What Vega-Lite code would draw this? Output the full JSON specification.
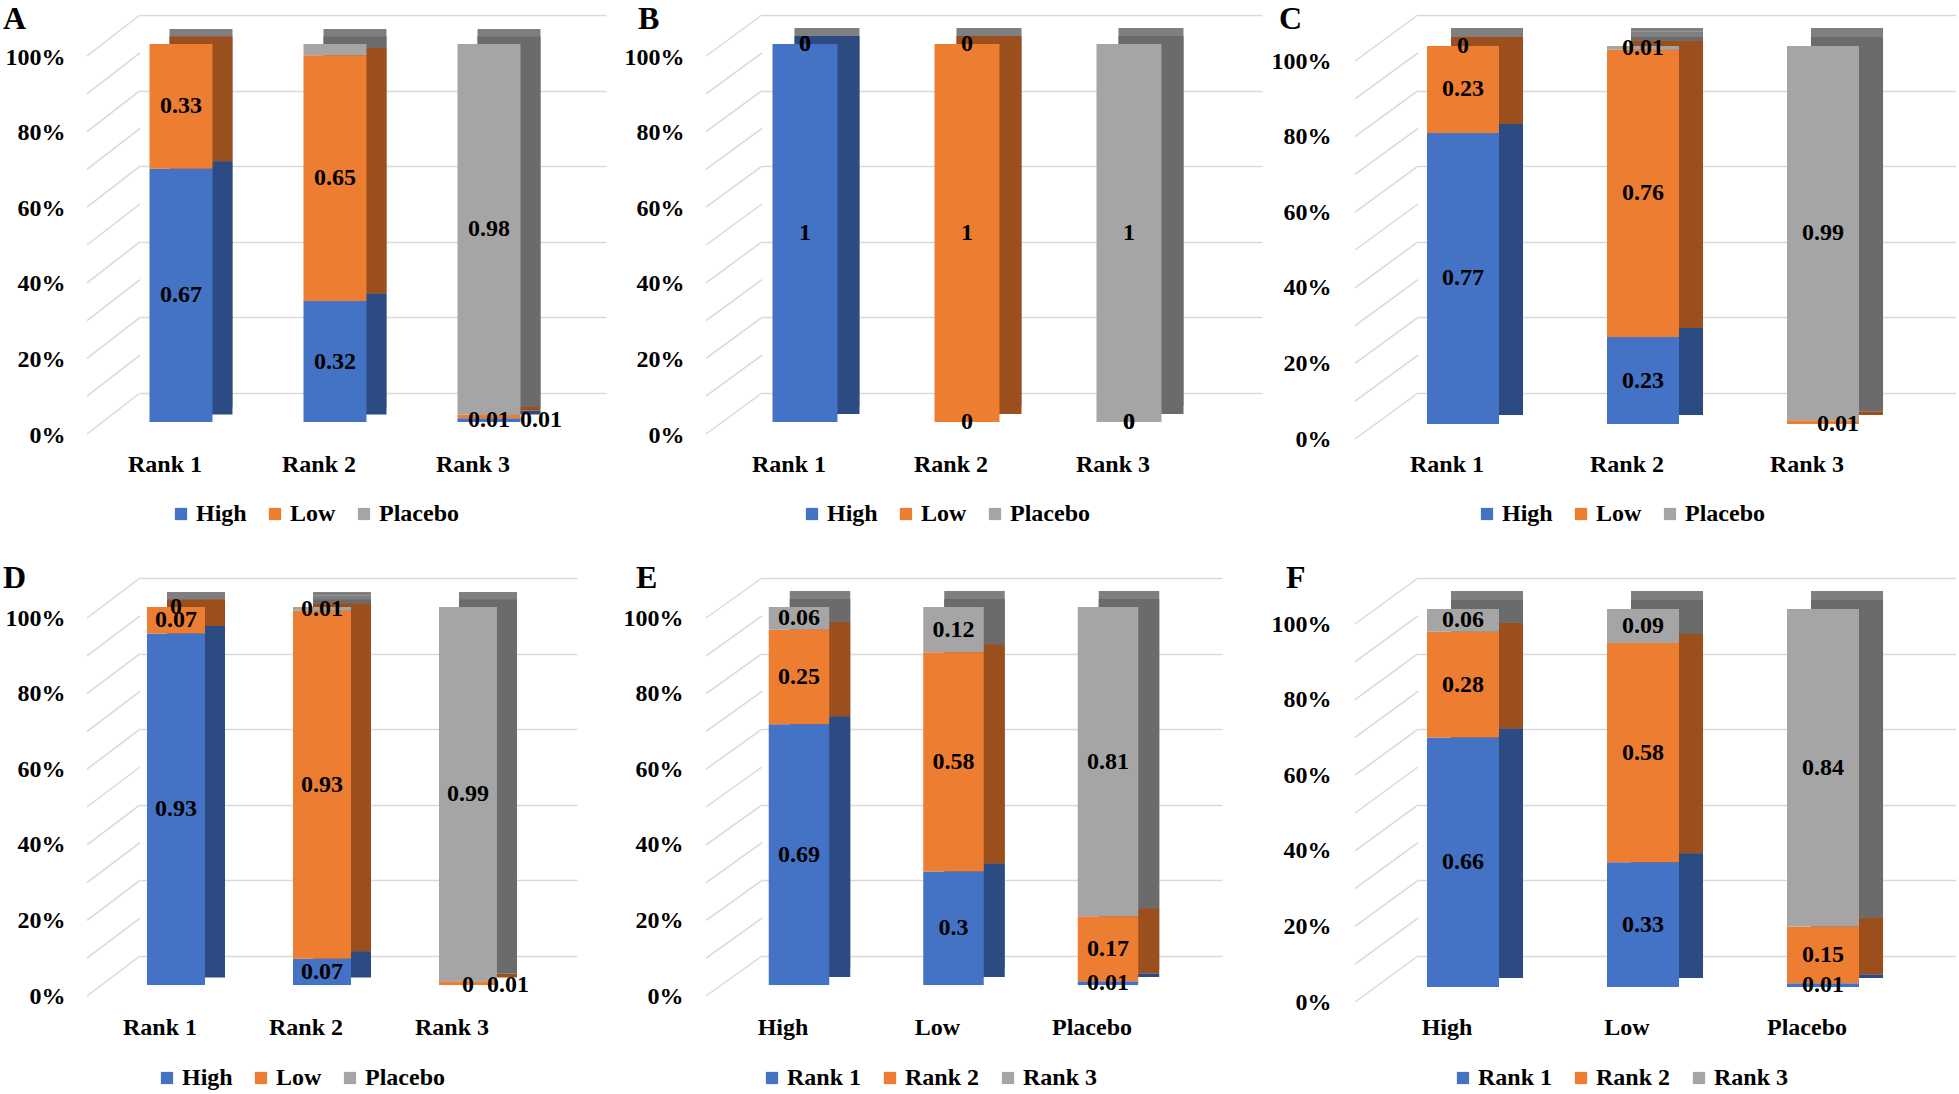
{
  "$schema": "https://vega.github.io/schema/vega-lite/v6.json",
  "autosize": {"type": "pad"},
  "padding": {"left": 3, "top": 3, "right": 0, "bottom": 0},
  "background": "white",
  "config": {"view": {"stroke": null}, "font": "Liberation Serif"},
  "datasets": {
    "grid": [{"t": 0}, {"t": 0.1}, {"t": 0.2}, {"t": 0.3}, {"t": 0.4}, {"t": 0.5}, {"t": 0.6}, {"t": 0.7}, {"t": 0.8}, {"t": 0.9}, {"t": 1}],
    "A": [
      {"x": "Rank 1", "s": "High", "o": 0, "v": 0.67, "lab": "0.67", "labR": ""},
      {"x": "Rank 1", "s": "Low", "o": 1, "v": 0.33, "lab": "0.33", "labR": ""},
      {"x": "Rank 1", "s": "Placebo", "o": 2, "v": 0, "lab": "", "labR": ""},
      {"x": "Rank 2", "s": "High", "o": 0, "v": 0.32, "lab": "0.32", "labR": ""},
      {"x": "Rank 2", "s": "Low", "o": 1, "v": 0.65, "lab": "0.65", "labR": ""},
      {"x": "Rank 2", "s": "Placebo", "o": 2, "v": 0.03, "lab": "", "labR": ""},
      {"x": "Rank 3", "s": "High", "o": 0, "v": 0.01, "lab": "0.01", "labR": ""},
      {"x": "Rank 3", "s": "Low", "o": 1, "v": 0.01, "lab": "", "labR": "0.01"},
      {"x": "Rank 3", "s": "Placebo", "o": 2, "v": 0.98, "lab": "0.98", "labR": ""}
    ],
    "B": [
      {"x": "Rank 1", "s": "High", "o": 0, "v": 1, "lab": "1", "labR": ""},
      {"x": "Rank 1", "s": "Low", "o": 1, "v": 0, "lab": "0", "labR": ""},
      {"x": "Rank 1", "s": "Placebo", "o": 2, "v": 0, "lab": "0", "labR": ""},
      {"x": "Rank 2", "s": "High", "o": 0, "v": 0, "lab": "0", "labR": ""},
      {"x": "Rank 2", "s": "Low", "o": 1, "v": 1, "lab": "1", "labR": ""},
      {"x": "Rank 2", "s": "Placebo", "o": 2, "v": 0, "lab": "0", "labR": ""},
      {"x": "Rank 3", "s": "High", "o": 0, "v": 0, "lab": "0", "labR": ""},
      {"x": "Rank 3", "s": "Low", "o": 1, "v": 0, "lab": "0", "labR": ""},
      {"x": "Rank 3", "s": "Placebo", "o": 2, "v": 1, "lab": "1", "labR": ""}
    ],
    "C": [
      {"x": "Rank 1", "s": "High", "o": 0, "v": 0.77, "lab": "0.77", "labR": ""},
      {"x": "Rank 1", "s": "Low", "o": 1, "v": 0.23, "lab": "0.23", "labR": ""},
      {"x": "Rank 1", "s": "Placebo", "o": 2, "v": 0, "lab": "0", "labR": ""},
      {"x": "Rank 2", "s": "High", "o": 0, "v": 0.23, "lab": "0.23", "labR": ""},
      {"x": "Rank 2", "s": "Low", "o": 1, "v": 0.76, "lab": "0.76", "labR": ""},
      {"x": "Rank 2", "s": "Placebo", "o": 2, "v": 0.01, "lab": "0.01", "labR": ""},
      {"x": "Rank 3", "s": "High", "o": 0, "v": 0, "lab": "", "labR": ""},
      {"x": "Rank 3", "s": "Low", "o": 1, "v": 0.01, "lab": "", "labR": "0.01"},
      {"x": "Rank 3", "s": "Placebo", "o": 2, "v": 0.99, "lab": "0.99", "labR": ""}
    ],
    "D": [
      {"x": "Rank 1", "s": "High", "o": 0, "v": 0.93, "lab": "0.93", "labR": ""},
      {"x": "Rank 1", "s": "Low", "o": 1, "v": 0.07, "lab": "0.07", "labR": ""},
      {"x": "Rank 1", "s": "Placebo", "o": 2, "v": 0, "lab": "0", "labR": ""},
      {"x": "Rank 2", "s": "High", "o": 0, "v": 0.07, "lab": "0.07", "labR": ""},
      {"x": "Rank 2", "s": "Low", "o": 1, "v": 0.93, "lab": "0.93", "labR": ""},
      {"x": "Rank 2", "s": "Placebo", "o": 2, "v": 0.01, "lab": "0.01", "labR": ""},
      {"x": "Rank 3", "s": "High", "o": 0, "v": 0, "lab": "0", "labR": ""},
      {"x": "Rank 3", "s": "Low", "o": 1, "v": 0.01, "lab": "", "labR": "0.01"},
      {"x": "Rank 3", "s": "Placebo", "o": 2, "v": 0.99, "lab": "0.99", "labR": ""}
    ],
    "E": [
      {"x": "High", "s": "Rank 1", "o": 0, "v": 0.69, "lab": "0.69", "labR": ""},
      {"x": "High", "s": "Rank 2", "o": 1, "v": 0.25, "lab": "0.25", "labR": ""},
      {"x": "High", "s": "Rank 3", "o": 2, "v": 0.06, "lab": "0.06", "labR": ""},
      {"x": "Low", "s": "Rank 1", "o": 0, "v": 0.3, "lab": "0.3", "labR": ""},
      {"x": "Low", "s": "Rank 2", "o": 1, "v": 0.58, "lab": "0.58", "labR": ""},
      {"x": "Low", "s": "Rank 3", "o": 2, "v": 0.12, "lab": "0.12", "labR": ""},
      {"x": "Placebo", "s": "Rank 1", "o": 0, "v": 0.01, "lab": "0.01", "labR": ""},
      {"x": "Placebo", "s": "Rank 2", "o": 1, "v": 0.17, "lab": "0.17", "labR": ""},
      {"x": "Placebo", "s": "Rank 3", "o": 2, "v": 0.81, "lab": "0.81", "labR": ""}
    ],
    "F": [
      {"x": "High", "s": "Rank 1", "o": 0, "v": 0.66, "lab": "0.66", "labR": ""},
      {"x": "High", "s": "Rank 2", "o": 1, "v": 0.28, "lab": "0.28", "labR": ""},
      {"x": "High", "s": "Rank 3", "o": 2, "v": 0.06, "lab": "0.06", "labR": ""},
      {"x": "Low", "s": "Rank 1", "o": 0, "v": 0.33, "lab": "0.33", "labR": ""},
      {"x": "Low", "s": "Rank 2", "o": 1, "v": 0.58, "lab": "0.58", "labR": ""},
      {"x": "Low", "s": "Rank 3", "o": 2, "v": 0.09, "lab": "0.09", "labR": ""},
      {"x": "Placebo", "s": "Rank 1", "o": 0, "v": 0.01, "lab": "0.01", "labR": ""},
      {"x": "Placebo", "s": "Rank 2", "o": 1, "v": 0.15, "lab": "0.15", "labR": ""},
      {"x": "Placebo", "s": "Rank 3", "o": 2, "v": 0.84, "lab": "0.84", "labR": ""}
    ]
  },
  "columns": 3,
  "spacing": {"row": 185, "column": 156},
  "bounds": "flush",
  "align": "each",
  "resolve": {"scale": {"x": "independent", "y": "independent", "color": "independent"}, "legend": {"color": "independent"}},
  "concat": [
    {
      "width": 466, "height": 378,
      "title": {"text": "A", "anchor": "start", "frame": "group", "dx": -137, "dy": 22, "offset": 0, "baseline": "top", "align": "left", "fontSize": 32, "font": "Liberation Serif", "fontWeight": "bold", "color": "#000"},
      "data": {"name": "A"},
      "layer": [
        {"data": {"name": "grid"}, "mark": {"type": "rule", "color": "#D9D9D9", "strokeWidth": 1.5, "xOffset": -94, "x2Offset": -41, "yOffset": 41, "y2Offset": 0},
         "encoding": {
           "x": {"datum": "Rank 1", "type": "nominal", "scale": {"domain": ["Rank 1", "Rank 2", "Rank 3"], "paddingInner": 0.591, "paddingOuter": 0.3085, "align": 0.1}, "axis": {"title": null, "domain": false, "ticks": false, "tickSize": 0, "grid": false, "labelPadding": 59, "labelOffset": -16, "labelAngle": 0, "labelFont": "Liberation Serif", "labelFontSize": 24, "labelFontWeight": "bold", "labelColor": "#000"}},
           "x2": {"datum": "Rank 1"},
           "y": {"field": "t", "type": "quantitative", "scale": {"domain": [0, 1]}, "axis": {"title": null, "values": [0, 0.1, 0.2, 0.3, 0.4, 0.5, 0.6, 0.7, 0.8, 0.9, 1], "format": ".0%", "grid": true, "gridColor": "#D9D9D9", "gridWidth": 1.5, "domain": false, "ticks": false, "tickSize": 0, "labelPadding": 75, "labelOffset": 42, "labelFont": "Liberation Serif", "labelFontSize": 24, "labelFontWeight": "bold", "labelColor": "#000"}},
           "y2": {"field": "t"}
         }},
        {"mark": {"type": "bar", "fill": "#7F7F7F", "xOffset": 20, "yOffset": 14, "y2Offset": 14},
         "encoding": {"x": {"field": "x", "type": "nominal"}, "y": {"field": "v", "type": "quantitative", "stack": "normalize"}, "order": {"field": "o"}}},
        {"mark": {"type": "bar", "xOffset": 20, "yOffset": 21.5, "y2Offset": 21.5},
         "encoding": {"x": {"field": "x", "type": "nominal"}, "y": {"field": "v", "type": "quantitative", "stack": "normalize"}, "order": {"field": "o"},
           "fill": {"condition": [{"test": "datum.o === 0", "value": "#2C4B82"}, {"test": "datum.o === 1", "value": "#9A4F1D"}], "value": "#6B6B6B"}}},
        {"mark": {"type": "bar", "yOffset": 29, "y2Offset": 29},
         "encoding": {"x": {"field": "x", "type": "nominal"}, "y": {"field": "v", "type": "quantitative", "stack": "normalize"}, "order": {"field": "o"},
           "color": {"field": "s", "type": "nominal", "scale": {"domain": ["High", "Low", "Placebo"], "range": ["#4472C4", "#ED7D31", "#A5A5A5"]},
             "legend": {"orient": "none", "legendX": 29, "legendY": 487, "direction": "horizontal", "title": null, "symbolType": "square", "symbolSize": 150, "symbolStrokeWidth": 0, "labelFont": "Liberation Serif", "labelFontSize": 24, "labelFontWeight": "bold", "labelColor": "#000", "labelOffset": 3, "columnPadding": 16, "padding": 0, "labelLimit": 300}}}},
        {"transform": [{"stack": "v", "groupby": ["x"], "sort": [{"field": "o", "order": "ascending"}], "offset": "normalize", "as": ["y0", "y1"]}, {"fold": ["y0", "y1"], "as": ["k", "p"]}],
         "mark": {"type": "text", "dy": 29, "baseline": "middle", "font": "Liberation Serif", "fontSize": 24, "fontWeight": "bold", "color": "#000"},
         "encoding": {"x": {"field": "x", "type": "nominal"}, "y": {"aggregate": "mean", "field": "p", "type": "quantitative", "stack": null}, "text": {"field": "lab"}, "detail": {"field": "s"}}},
        {"transform": [{"stack": "v", "groupby": ["x"], "sort": [{"field": "o", "order": "ascending"}], "offset": "normalize", "as": ["y0", "y1"]}, {"fold": ["y0", "y1"], "as": ["k", "p"]}],
         "mark": {"type": "text", "dy": 33, "dx": 52, "baseline": "middle", "font": "Liberation Serif", "fontSize": 24, "fontWeight": "bold", "color": "#000"},
         "encoding": {"x": {"field": "x", "type": "nominal"}, "y": {"aggregate": "mean", "field": "p", "type": "quantitative", "stack": null}, "text": {"field": "labR"}, "detail": {"field": "s"}}}
      ]
    },
    {
      "width": 500, "height": 378,
      "title": {"text": "B", "anchor": "start", "frame": "group", "dx": -124, "dy": 22, "offset": 0, "baseline": "top", "align": "left", "fontSize": 32, "font": "Liberation Serif", "fontWeight": "bold", "color": "#000"},
      "data": {"name": "B"},
      "layer": [
        {"data": {"name": "grid"}, "mark": {"type": "rule", "color": "#D9D9D9", "strokeWidth": 1.5, "xOffset": -99, "x2Offset": -43, "yOffset": 41, "y2Offset": 0},
         "encoding": {
           "x": {"datum": "Rank 1", "type": "nominal", "scale": {"domain": ["Rank 1", "Rank 2", "Rank 3"], "paddingInner": 0.5988, "paddingOuter": 0.3426, "align": 0.0946}, "axis": {"title": null, "domain": false, "ticks": false, "tickSize": 0, "grid": false, "labelPadding": 59, "labelOffset": -16, "labelAngle": 0, "labelFont": "Liberation Serif", "labelFontSize": 24, "labelFontWeight": "bold", "labelColor": "#000"}},
           "x2": {"datum": "Rank 1"},
           "y": {"field": "t", "type": "quantitative", "scale": {"domain": [0, 1]}, "axis": {"title": null, "values": [0, 0.1, 0.2, 0.3, 0.4, 0.5, 0.6, 0.7, 0.8, 0.9, 1], "format": ".0%", "grid": true, "gridColor": "#D9D9D9", "gridWidth": 1.5, "domain": false, "ticks": false, "tickSize": 0, "labelPadding": 78, "labelOffset": 42, "labelFont": "Liberation Serif", "labelFontSize": 24, "labelFontWeight": "bold", "labelColor": "#000"}},
           "y2": {"field": "t"}
         }},
        {"mark": {"type": "bar", "fill": "#7F7F7F", "xOffset": 22, "yOffset": 13, "y2Offset": 13},
         "encoding": {"x": {"field": "x", "type": "nominal"}, "y": {"field": "v", "type": "quantitative", "stack": "normalize"}, "order": {"field": "o"}}},
        {"mark": {"type": "bar", "xOffset": 22, "yOffset": 21, "y2Offset": 21},
         "encoding": {"x": {"field": "x", "type": "nominal"}, "y": {"field": "v", "type": "quantitative", "stack": "normalize"}, "order": {"field": "o"},
           "fill": {"condition": [{"test": "datum.o === 0", "value": "#2C4B82"}, {"test": "datum.o === 1", "value": "#9A4F1D"}], "value": "#6B6B6B"}}},
        {"mark": {"type": "bar", "yOffset": 29, "y2Offset": 29},
         "encoding": {"x": {"field": "x", "type": "nominal"}, "y": {"field": "v", "type": "quantitative", "stack": "normalize"}, "order": {"field": "o"},
           "color": {"field": "s", "type": "nominal", "scale": {"domain": ["High", "Low", "Placebo"], "range": ["#4472C4", "#ED7D31", "#A5A5A5"]},
             "legend": {"orient": "none", "legendX": 38, "legendY": 487, "direction": "horizontal", "title": null, "symbolType": "square", "symbolSize": 150, "symbolStrokeWidth": 0, "labelFont": "Liberation Serif", "labelFontSize": 24, "labelFontWeight": "bold", "labelColor": "#000", "labelOffset": 3, "columnPadding": 16, "padding": 0, "labelLimit": 300}}}},
        {"transform": [{"stack": "v", "groupby": ["x"], "sort": [{"field": "o", "order": "ascending"}], "offset": "normalize", "as": ["y0", "y1"]}, {"fold": ["y0", "y1"], "as": ["k", "p"]}],
         "mark": {"type": "text", "dy": 29, "baseline": "middle", "font": "Liberation Serif", "fontSize": 24, "fontWeight": "bold", "color": "#000"},
         "encoding": {"x": {"field": "x", "type": "nominal"}, "y": {"aggregate": "mean", "field": "p", "type": "quantitative", "stack": null}, "text": {"field": "lab"}, "detail": {"field": "s"}}}
      ]
    },
    {
      "width": 538, "height": 378,
      "title": {"text": "C", "anchor": "start", "frame": "group", "dx": -139, "dy": 22, "offset": 0, "baseline": "top", "align": "left", "fontSize": 32, "font": "Liberation Serif", "fontWeight": "bold", "color": "#000"},
      "data": {"name": "C"},
      "layer": [
        {"data": {"name": "grid"}, "mark": {"type": "rule", "color": "#D9D9D9", "strokeWidth": 1.5, "xOffset": -108, "x2Offset": -45, "yOffset": 46, "y2Offset": 0},
         "encoding": {
           "x": {"datum": "Rank 1", "type": "nominal", "scale": {"domain": ["Rank 1", "Rank 2", "Rank 3"], "paddingInner": 0.6, "paddingOuter": 0.2944, "align": 0.085}, "axis": {"title": null, "domain": false, "ticks": false, "tickSize": 0, "grid": false, "labelPadding": 59, "labelOffset": -16, "labelAngle": 0, "labelFont": "Liberation Serif", "labelFontSize": 24, "labelFontWeight": "bold", "labelColor": "#000"}},
           "x2": {"datum": "Rank 1"},
           "y": {"field": "t", "type": "quantitative", "scale": {"domain": [0, 1]}, "axis": {"title": null, "values": [0, 0.1, 0.2, 0.3, 0.4, 0.5, 0.6, 0.7, 0.8, 0.9, 1], "format": ".0%", "grid": true, "gridColor": "#D9D9D9", "gridWidth": 1.5, "domain": false, "ticks": false, "tickSize": 0, "labelPadding": 87, "labelOffset": 46, "labelFont": "Liberation Serif", "labelFontSize": 24, "labelFontWeight": "bold", "labelColor": "#000"}},
           "y2": {"field": "t"}
         }},
        {"mark": {"type": "bar", "fill": "#7F7F7F", "xOffset": 24, "yOffset": 13, "y2Offset": 13},
         "encoding": {"x": {"field": "x", "type": "nominal"}, "y": {"field": "v", "type": "quantitative", "stack": "normalize"}, "order": {"field": "o"}}},
        {"mark": {"type": "bar", "xOffset": 24, "yOffset": 22, "y2Offset": 22},
         "encoding": {"x": {"field": "x", "type": "nominal"}, "y": {"field": "v", "type": "quantitative", "stack": "normalize"}, "order": {"field": "o"},
           "fill": {"condition": [{"test": "datum.o === 0", "value": "#2C4B82"}, {"test": "datum.o === 1", "value": "#9A4F1D"}], "value": "#6B6B6B"}}},
        {"mark": {"type": "bar", "yOffset": 31, "y2Offset": 31},
         "encoding": {"x": {"field": "x", "type": "nominal"}, "y": {"field": "v", "type": "quantitative", "stack": "normalize"}, "order": {"field": "o"},
           "color": {"field": "s", "type": "nominal", "scale": {"domain": ["High", "Low", "Placebo"], "range": ["#4472C4", "#ED7D31", "#A5A5A5"]},
             "legend": {"orient": "none", "legendX": 57, "legendY": 487, "direction": "horizontal", "title": null, "symbolType": "square", "symbolSize": 150, "symbolStrokeWidth": 0, "labelFont": "Liberation Serif", "labelFontSize": 24, "labelFontWeight": "bold", "labelColor": "#000", "labelOffset": 3, "columnPadding": 16, "padding": 0, "labelLimit": 300}}}},
        {"transform": [{"stack": "v", "groupby": ["x"], "sort": [{"field": "o", "order": "ascending"}], "offset": "normalize", "as": ["y0", "y1"]}, {"fold": ["y0", "y1"], "as": ["k", "p"]}],
         "mark": {"type": "text", "dy": 31, "baseline": "middle", "font": "Liberation Serif", "fontSize": 24, "fontWeight": "bold", "color": "#000"},
         "encoding": {"x": {"field": "x", "type": "nominal"}, "y": {"aggregate": "mean", "field": "p", "type": "quantitative", "stack": null}, "text": {"field": "lab"}, "detail": {"field": "s"}}},
        {"transform": [{"stack": "v", "groupby": ["x"], "sort": [{"field": "o", "order": "ascending"}], "offset": "normalize", "as": ["y0", "y1"]}, {"fold": ["y0", "y1"], "as": ["k", "p"]}],
         "mark": {"type": "text", "dy": 33, "dx": 15, "baseline": "middle", "font": "Liberation Serif", "fontSize": 24, "fontWeight": "bold", "color": "#000"},
         "encoding": {"x": {"field": "x", "type": "nominal"}, "y": {"aggregate": "mean", "field": "p", "type": "quantitative", "stack": null}, "text": {"field": "labR"}, "detail": {"field": "s"}}}
      ]
    },
    {
      "width": 437, "height": 378,
      "title": {"text": "D", "anchor": "start", "frame": "group", "dx": -137, "dy": 18, "offset": 0, "baseline": "top", "align": "left", "fontSize": 32, "font": "Liberation Serif", "fontWeight": "bold", "color": "#000"},
      "data": {"name": "D"},
      "layer": [
        {"data": {"name": "grid"}, "mark": {"type": "rule", "color": "#D9D9D9", "strokeWidth": 1.5, "xOffset": -89, "x2Offset": -36, "yOffset": 40, "y2Offset": 0},
         "encoding": {
           "x": {"datum": "Rank 1", "type": "nominal", "scale": {"domain": ["Rank 1", "Rank 2", "Rank 3"], "paddingInner": 0.6027, "paddingOuter": 0.298, "align": 0.0805}, "axis": {"title": null, "domain": false, "ticks": false, "tickSize": 0, "grid": false, "labelPadding": 59, "labelOffset": -16, "labelAngle": 0, "labelFont": "Liberation Serif", "labelFontSize": 24, "labelFontWeight": "bold", "labelColor": "#000"}},
           "x2": {"datum": "Rank 1"},
           "y": {"field": "t", "type": "quantitative", "scale": {"domain": [0, 1]}, "axis": {"title": null, "values": [0, 0.1, 0.2, 0.3, 0.4, 0.5, 0.6, 0.7, 0.8, 0.9, 1], "format": ".0%", "grid": true, "gridColor": "#D9D9D9", "gridWidth": 1.5, "domain": false, "ticks": false, "tickSize": 0, "labelPadding": 75, "labelOffset": 40, "labelFont": "Liberation Serif", "labelFontSize": 24, "labelFontWeight": "bold", "labelColor": "#000"}},
           "y2": {"field": "t"}
         }},
        {"mark": {"type": "bar", "fill": "#7F7F7F", "xOffset": 20, "yOffset": 14, "y2Offset": 14},
         "encoding": {"x": {"field": "x", "type": "nominal"}, "y": {"field": "v", "type": "quantitative", "stack": "normalize"}, "order": {"field": "o"}}},
        {"mark": {"type": "bar", "xOffset": 20, "yOffset": 21.5, "y2Offset": 21.5},
         "encoding": {"x": {"field": "x", "type": "nominal"}, "y": {"field": "v", "type": "quantitative", "stack": "normalize"}, "order": {"field": "o"},
           "fill": {"condition": [{"test": "datum.o === 0", "value": "#2C4B82"}, {"test": "datum.o === 1", "value": "#9A4F1D"}], "value": "#6B6B6B"}}},
        {"mark": {"type": "bar", "yOffset": 29, "y2Offset": 29},
         "encoding": {"x": {"field": "x", "type": "nominal"}, "y": {"field": "v", "type": "quantitative", "stack": "normalize"}, "order": {"field": "o"},
           "color": {"field": "s", "type": "nominal", "scale": {"domain": ["High", "Low", "Placebo"], "range": ["#4472C4", "#ED7D31", "#A5A5A5"]},
             "legend": {"orient": "none", "legendX": 15, "legendY": 488, "direction": "horizontal", "title": null, "symbolType": "square", "symbolSize": 150, "symbolStrokeWidth": 0, "labelFont": "Liberation Serif", "labelFontSize": 24, "labelFontWeight": "bold", "labelColor": "#000", "labelOffset": 3, "columnPadding": 16, "padding": 0, "labelLimit": 300}}}},
        {"transform": [{"stack": "v", "groupby": ["x"], "sort": [{"field": "o", "order": "ascending"}], "offset": "normalize", "as": ["y0", "y1"]}, {"fold": ["y0", "y1"], "as": ["k", "p"]}],
         "mark": {"type": "text", "dy": 29, "baseline": "middle", "font": "Liberation Serif", "fontSize": 24, "fontWeight": "bold", "color": "#000"},
         "encoding": {"x": {"field": "x", "type": "nominal"}, "y": {"aggregate": "mean", "field": "p", "type": "quantitative", "stack": null}, "text": {"field": "lab"}, "detail": {"field": "s"}}},
        {"transform": [{"stack": "v", "groupby": ["x"], "sort": [{"field": "o", "order": "ascending"}], "offset": "normalize", "as": ["y0", "y1"]}, {"fold": ["y0", "y1"], "as": ["k", "p"]}],
         "mark": {"type": "text", "dy": 31, "dx": 40, "baseline": "middle", "font": "Liberation Serif", "fontSize": 24, "fontWeight": "bold", "color": "#000"},
         "encoding": {"x": {"field": "x", "type": "nominal"}, "y": {"aggregate": "mean", "field": "p", "type": "quantitative", "stack": null}, "text": {"field": "labR"}, "detail": {"field": "s"}}}
      ]
    },
    {
      "width": 460, "height": 378,
      "title": {"text": "E", "anchor": "start", "frame": "group", "dx": -126, "dy": 18, "offset": 0, "baseline": "top", "align": "left", "fontSize": 32, "font": "Liberation Serif", "fontWeight": "bold", "color": "#000"},
      "data": {"name": "E"},
      "layer": [
        {"data": {"name": "grid"}, "mark": {"type": "rule", "color": "#D9D9D9", "strokeWidth": 1.5, "xOffset": -93, "x2Offset": -37, "yOffset": 40, "y2Offset": 0},
         "encoding": {
           "x": {"datum": "High", "type": "nominal", "scale": {"domain": ["High", "Low", "Placebo"], "paddingInner": 0.6084, "paddingOuter": 0.2929, "align": 0.0746}, "axis": {"title": null, "domain": false, "ticks": false, "tickSize": 0, "grid": false, "labelPadding": 59, "labelOffset": -16, "labelAngle": 0, "labelFont": "Liberation Serif", "labelFontSize": 24, "labelFontWeight": "bold", "labelColor": "#000"}},
           "x2": {"datum": "High"},
           "y": {"field": "t", "type": "quantitative", "scale": {"domain": [0, 1]}, "axis": {"title": null, "values": [0, 0.1, 0.2, 0.3, 0.4, 0.5, 0.6, 0.7, 0.8, 0.9, 1], "format": ".0%", "grid": true, "gridColor": "#D9D9D9", "gridWidth": 1.5, "domain": false, "ticks": false, "tickSize": 0, "labelPadding": 79, "labelOffset": 40, "labelFont": "Liberation Serif", "labelFontSize": 24, "labelFontWeight": "bold", "labelColor": "#000"}},
           "y2": {"field": "t"}
         }},
        {"mark": {"type": "bar", "fill": "#7F7F7F", "xOffset": 21, "yOffset": 13, "y2Offset": 13},
         "encoding": {"x": {"field": "x", "type": "nominal"}, "y": {"field": "v", "type": "quantitative", "stack": "normalize"}, "order": {"field": "o"}}},
        {"mark": {"type": "bar", "xOffset": 21, "yOffset": 21, "y2Offset": 21},
         "encoding": {"x": {"field": "x", "type": "nominal"}, "y": {"field": "v", "type": "quantitative", "stack": "normalize"}, "order": {"field": "o"},
           "fill": {"condition": [{"test": "datum.o === 0", "value": "#2C4B82"}, {"test": "datum.o === 1", "value": "#9A4F1D"}], "value": "#6B6B6B"}}},
        {"mark": {"type": "bar", "yOffset": 29, "y2Offset": 29},
         "encoding": {"x": {"field": "x", "type": "nominal"}, "y": {"field": "v", "type": "quantitative", "stack": "normalize"}, "order": {"field": "o"},
           "color": {"field": "s", "type": "nominal", "scale": {"domain": ["Rank 1", "Rank 2", "Rank 3"], "range": ["#4472C4", "#ED7D31", "#A5A5A5"]},
             "legend": {"orient": "none", "legendX": -2, "legendY": 488, "direction": "horizontal", "title": null, "symbolType": "square", "symbolSize": 150, "symbolStrokeWidth": 0, "labelFont": "Liberation Serif", "labelFontSize": 24, "labelFontWeight": "bold", "labelColor": "#000", "labelOffset": 3, "columnPadding": 16, "padding": 0, "labelLimit": 300}}}},
        {"transform": [{"stack": "v", "groupby": ["x"], "sort": [{"field": "o", "order": "ascending"}], "offset": "normalize", "as": ["y0", "y1"]}, {"fold": ["y0", "y1"], "as": ["k", "p"]}],
         "mark": {"type": "text", "dy": 29, "baseline": "middle", "font": "Liberation Serif", "fontSize": 24, "fontWeight": "bold", "color": "#000"},
         "encoding": {"x": {"field": "x", "type": "nominal"}, "y": {"aggregate": "mean", "field": "p", "type": "quantitative", "stack": null}, "text": {"field": "lab"}, "detail": {"field": "s"}}}
      ]
    },
    {
      "width": 538, "height": 378,
      "title": {"text": "F", "anchor": "start", "frame": "group", "dx": -132, "dy": 18, "offset": 0, "baseline": "top", "align": "left", "fontSize": 32, "font": "Liberation Serif", "fontWeight": "bold", "color": "#000"},
      "data": {"name": "F"},
      "layer": [
        {"data": {"name": "grid"}, "mark": {"type": "rule", "color": "#D9D9D9", "strokeWidth": 1.5, "xOffset": -108, "x2Offset": -45, "yOffset": 46, "y2Offset": 0},
         "encoding": {
           "x": {"datum": "High", "type": "nominal", "scale": {"domain": ["High", "Low", "Placebo"], "paddingInner": 0.6, "paddingOuter": 0.2944, "align": 0.085}, "axis": {"title": null, "domain": false, "ticks": false, "tickSize": 0, "grid": false, "labelPadding": 59, "labelOffset": -16, "labelAngle": 0, "labelFont": "Liberation Serif", "labelFontSize": 24, "labelFontWeight": "bold", "labelColor": "#000"}},
           "x2": {"datum": "High"},
           "y": {"field": "t", "type": "quantitative", "scale": {"domain": [0, 1]}, "axis": {"title": null, "values": [0, 0.1, 0.2, 0.3, 0.4, 0.5, 0.6, 0.7, 0.8, 0.9, 1], "format": ".0%", "grid": true, "gridColor": "#D9D9D9", "gridWidth": 1.5, "domain": false, "ticks": false, "tickSize": 0, "labelPadding": 87, "labelOffset": 46, "labelFont": "Liberation Serif", "labelFontSize": 24, "labelFontWeight": "bold", "labelColor": "#000"}},
           "y2": {"field": "t"}
         }},
        {"mark": {"type": "bar", "fill": "#7F7F7F", "xOffset": 24, "yOffset": 13, "y2Offset": 13},
         "encoding": {"x": {"field": "x", "type": "nominal"}, "y": {"field": "v", "type": "quantitative", "stack": "normalize"}, "order": {"field": "o"}}},
        {"mark": {"type": "bar", "xOffset": 24, "yOffset": 22, "y2Offset": 22},
         "encoding": {"x": {"field": "x", "type": "nominal"}, "y": {"field": "v", "type": "quantitative", "stack": "normalize"}, "order": {"field": "o"},
           "fill": {"condition": [{"test": "datum.o === 0", "value": "#2C4B82"}, {"test": "datum.o === 1", "value": "#9A4F1D"}], "value": "#6B6B6B"}}},
        {"mark": {"type": "bar", "yOffset": 31, "y2Offset": 31},
         "encoding": {"x": {"field": "x", "type": "nominal"}, "y": {"field": "v", "type": "quantitative", "stack": "normalize"}, "order": {"field": "o"},
           "color": {"field": "s", "type": "nominal", "scale": {"domain": ["Rank 1", "Rank 2", "Rank 3"], "range": ["#4472C4", "#ED7D31", "#A5A5A5"]},
             "legend": {"orient": "none", "legendX": 33, "legendY": 488, "direction": "horizontal", "title": null, "symbolType": "square", "symbolSize": 150, "symbolStrokeWidth": 0, "labelFont": "Liberation Serif", "labelFontSize": 24, "labelFontWeight": "bold", "labelColor": "#000", "labelOffset": 3, "columnPadding": 16, "padding": 0, "labelLimit": 300}}}},
        {"transform": [{"stack": "v", "groupby": ["x"], "sort": [{"field": "o", "order": "ascending"}], "offset": "normalize", "as": ["y0", "y1"]}, {"fold": ["y0", "y1"], "as": ["k", "p"]}],
         "mark": {"type": "text", "dy": 31, "baseline": "middle", "font": "Liberation Serif", "fontSize": 24, "fontWeight": "bold", "color": "#000"},
         "encoding": {"x": {"field": "x", "type": "nominal"}, "y": {"aggregate": "mean", "field": "p", "type": "quantitative", "stack": null}, "text": {"field": "lab"}, "detail": {"field": "s"}}}
      ]
    }
  ]
}
